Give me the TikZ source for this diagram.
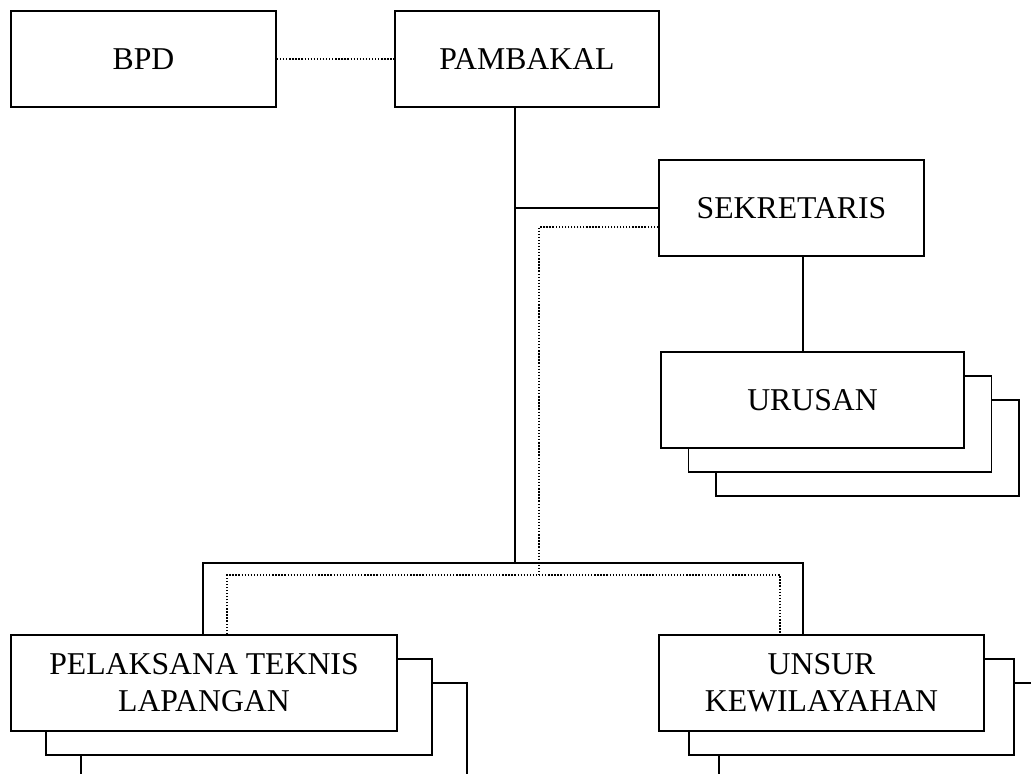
\documentclass[tikz,border=0pt]{standalone}
\usepackage{fontspec}
\setmainfont{Liberation Serif}
\usetikzlibrary{positioning,calc,backgrounds}

\begin{document}
\begin{tikzpicture}
[x=0.75pt,y=-0.75pt,
edge/.style={black, line width=1.4pt},
dotline/.style={black, line width=1pt, dash pattern=on 1pt off 1.3pt},
block/.style={draw=black, line width=1.4pt, fill=white, inner sep=0pt,
minimum height=72pt, align=center, font=\fontsize{23.8}{27.6}\selectfont}]
\useasboundingbox (0,0) rectangle (1031,774);
\clip (0,0) rectangle (1031,774);
%%
\node[block, minimum width=198.75pt] (bpd) at (143.5,59) {BPD};
\node[block, minimum width=198pt] (pambakal) at (527,59) {PAMBAKAL};
%%
\node[block, minimum width=198.75pt] (sekretaris) at (791.5,208) {SEKRETARIS};
%%
\node[block, minimum width=227.25pt] (urusanC) at (867.5,448) {};
\node[block, minimum width=227.25pt] (urusanB) at (840,424) {};
\node[block, minimum width=227.25pt] (urusan) at (812.5,400) {URUSAN};
%%
\node[block, minimum width=289.5pt] (pelaksanaC) at (274,731) {};
\node[block, minimum width=289.5pt] (pelaksanaB) at (239,707) {};
\node[block, minimum width=289.5pt] (pelaksana) at (204,683) {PELAKSANA TEKNIS\\LAPANGAN};
%%
\node[block, minimum width=243.75pt] (unsurC) at (881.5,731) {};
\node[block, minimum width=243.75pt] (unsurB) at (851.5,707) {};
\node[block, minimum width=243.75pt] (unsur) at (821.5,683) {UNSUR\\KEWILAYAHAN};
%%
\coordinate (split) at (515,563);
\coordinate (splitL) at (203,563);
\coordinate (splitR) at (803,563);
\coordinate (dotsplit) at (539,575);
\coordinate (dotL) at (227,575);
\coordinate (dotR) at (780,575);
%%
\draw[dotline] (bpd) -- (pambakal);
\draw[edge] (pambakal.south -| split) -- (split);
\draw[edge] (split |- sekretaris.west) -- (sekretaris.west);
\draw[edge] (sekretaris.south -| splitR) -- (urusan.north -| splitR);
\draw[edge] (splitL |- pelaksana.north) |- (splitR) -- (splitR |- unsur.north);
%%
\draw[dotline] ([yshift=-14.25pt]sekretaris.west) -| (dotsplit);
\draw[dotline] (dotL |- pelaksana.north) |- (dotR) -- (dotR |- unsur.north);
\end{tikzpicture}
\end{document}
